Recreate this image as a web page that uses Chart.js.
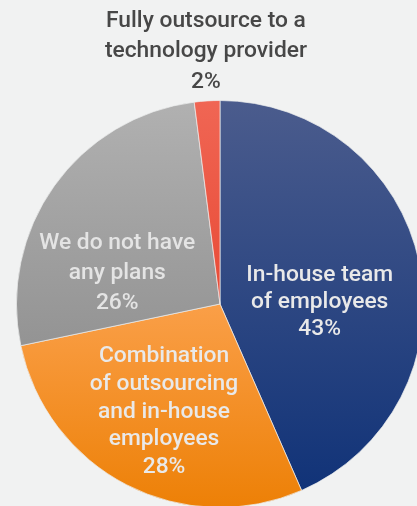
<!DOCTYPE html>
<html>
<head>
<meta charset="utf-8">
<script src="https://cdn.jsdelivr.net/npm/chart.js@4"></script>
<style>
  html, body { margin: 0; padding: 0; background: #f1f2f2; overflow: hidden; }
  #frame { position: relative; width: 417px; height: 506px; overflow: hidden; }
  #wrap { position: absolute; left: 0; top: 0; width: 440px; height: 520px; }
</style>
</head>
<body>
<div id="frame"><div id="wrap"><canvas id="c" width="440" height="520"></canvas></div></div>
<script>
// Survey answers, clockwise from 12 o'clock
const categories = [
  ["In-house team", "of employees"],
  ["Combination", "of outsourcing", "and in-house", "employees"],
  ["We do not have", "any plans"],
  ["Fully outsource to a", "technology provider"]
];
const shares = [43, 28, 26, 2];
const percentLabels = ["43%", "28%", "26%", "2%"];

// Vertical gradient stops per slice (fraction of pie height, colour)
const sliceGradients = [
  [[0, "#4b5c8d"], [1, "#0e3177"]],
  [[0.5, "#fa9f48"], [1, "#ed8006"]],
  [[0, "#b1b1b1"], [0.63, "#929292"], [1, "#888888"]],
  [[0, "#f06654"], [0.5, "#e84a36"]]
];

// Label block centre relative to the pie centre, in units of the radius
const labelPlacement = [
  { dx: 0.49, dy: -0.01, lineHeight: 27, color: "#e9e9e9" },
  { dx: -0.275, dy: 0.53, lineHeight: 27.7, color: "#e9e9e9" },
  { dx: -0.505, dy: -0.152, lineHeight: 30, color: "#e4e4e4" },
  { dx: -0.069, dy: -1.24, lineHeight: 30.5, color: "#474747" }
];

const sliceLabels = {
  id: "sliceLabels",
  afterDatasetsDraw(chart) {
    const ctx = chart.ctx;
    const arcs = chart.getDatasetMeta(0).data;
    ctx.save();
    ctx.textAlign = "center";
    ctx.textBaseline = "middle";
    ctx.font = "500 22.8px Roboto";
    arcs.forEach((arc, i) => {
      const p = labelPlacement[i];
      const r = arc.outerRadius;
      const cx = arc.x + p.dx * r;
      const cy = arc.y + p.dy * r;
      const lines = categories[i].concat([percentLabels[i]]);
      const top = cy - (lines.length - 1) * p.lineHeight / 2;
      ctx.fillStyle = p.color;
      lines.forEach((t, k) => ctx.fillText(t, cx, top + k * p.lineHeight));
    });
    ctx.restore();
  }
};

new Chart(document.getElementById("c"), {
  type: "pie",
  data: {
    labels: categories.map(l => l.join(" ")),
    datasets: [{
      data: shares,
      backgroundColor: (c) => {
        const chart = c.chart;
        const a = chart.chartArea;
        const stops = sliceGradients[c.dataIndex];
        if (!a) return stops[0][1];
        const g = chart.ctx.createLinearGradient(0, a.top, 0, a.bottom);
        stops.forEach(s => g.addColorStop(s[0], s[1]));
        return g;
      },
      borderColor: "rgba(236,238,238,0.7)",
      borderWidth: 1
    }]
  },
  options: {
    responsive: false,
    animation: false,
    layout: { padding: { left: 16, top: 100, right: 16, bottom: 12 } },
    plugins: { legend: { display: false }, tooltip: { enabled: false } }
  },
  plugins: [sliceLabels]
});
</script>
</body>
</html>
